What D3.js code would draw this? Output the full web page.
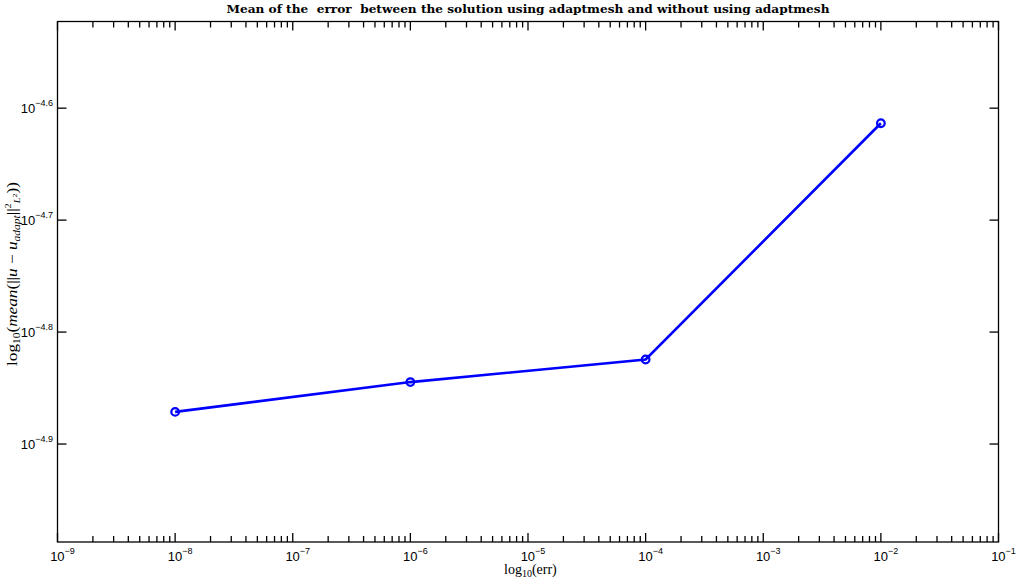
<!DOCTYPE html>
<html>
<head>
<meta charset="utf-8">
<script src="https://d3js.org/d3.v7.min.js"></script>
<style>
  body { margin: 0; background: #fff; }
  svg { display: block; }
</style>
</head>
<body>
<svg id="chart" width="1019" height="585"></svg>
<script>
// values
var errTol = [1e-8, 1e-6, 1e-4, 1e-2];
var meanErr = [1.345e-5, 1.430e-5, 1.498e-5, 2.435e-5];
var xTickExp = [-9, -8, -7, -6, -5, -4, -3, -2, -1];
var yTickExp = ['-4.6', '-4.7', '-4.8', '-4.9'];
var titleText = 'Mean of the  error  between the solution using adaptmesh and without using adaptmesh';

var svg = d3.select('#chart');
// note: "top" is reserved on window, so prefix everything
var padL = 57.5, padR = 998.5, padT = 21.5, padB = 542;

var x = d3.scaleLog().domain([1e-9, 1e-1]).range([padL, padR]);
var y = d3.scaleLog().domain([Math.pow(10, -4.9875), Math.pow(10, -4.5226)]).range([padB, padT]);

// frame
svg.append('rect')
  .attr('x', padL).attr('y', padT)
  .attr('width', padR - padL).attr('height', padB - padT)
  .attr('fill', 'none').attr('stroke', '#000').attr('stroke-width', 1.3);

// x ticks, major and minor, on bottom and top
var xMinor = [];
for (var e = -9; e < -1; e++) {
  for (var m = 2; m <= 9; m++) xMinor.push(m * Math.pow(10, e));
}
var xMajor = xTickExp.map(function(d) { return Math.pow(10, d); });

var ticks = svg.append('g').attr('stroke', '#000').attr('stroke-width', 1.3);
function tickSet(vals, len) {
  vals.forEach(function(v) {
    var px = x(v);
    ticks.append('line').attr('x1', px).attr('x2', px).attr('y1', padB).attr('y2', padB - len);
    ticks.append('line').attr('x1', px).attr('x2', px).attr('y1', padT).attr('y2', padT + len);
  });
}
tickSet(xMajor, 9);
tickSet(xMinor, 6);

yTickExp.forEach(function(d) {
  var py = y(Math.pow(10, +d));
  ticks.append('line').attr('x1', padL).attr('x2', padL + 9).attr('y1', py).attr('y2', py);
  ticks.append('line').attr('x1', padR).attr('x2', padR - 9).attr('y1', py).attr('y2', py);
});

// tick labels
var lab = svg.append('g')
  .attr('font-family', 'Liberation Sans, Arial, sans-serif')
  .attr('fill', '#000');

xTickExp.forEach(function(d) {
  var t = lab.append('text')
    .attr('x', x(Math.pow(10, d)) + 5)
    .attr('y', 561)
    .attr('text-anchor', 'middle')
    .attr('font-size', 13);
  t.append('tspan').text('10');
  t.append('tspan').attr('dy', -7).attr('font-size', 9).text('\u2212' + (-d));
});

yTickExp.forEach(function(d) {
  var t = lab.append('text')
    .attr('x', 53)
    .attr('y', y(Math.pow(10, +d)) + 4.5)
    .attr('text-anchor', 'end')
    .attr('font-size', 13);
  t.append('tspan').text('10');
  t.append('tspan').attr('dy', -7).attr('font-size', 9).text('\u2212' + d.slice(1));
});

// title
svg.append('text')
  .attr('x', (padL + padR) / 2)
  .attr('y', 13)
  .attr('text-anchor', 'middle')
  .attr('font-family', 'DejaVu Serif, serif')
  .attr('font-weight', 'bold')
  .attr('font-size', 11)
  .attr('textLength', 603)
  .attr('lengthAdjust', 'spacingAndGlyphs')
  .style('white-space', 'pre')
  .text(titleText);

// x label
var xl = svg.append('text')
  .attr('x', 504)
  .attr('y', 574)
  .attr('font-family', 'Liberation Serif, serif')
  .attr('font-size', 14);
xl.append('tspan').text('log');
xl.append('tspan').attr('dy', 3).attr('font-size', 10).text('10');
xl.append('tspan').attr('dy', -3).text('(err)');

// y label
var yl = svg.append('text')
  .attr('transform', 'translate(17,274) rotate(-90)')
  .attr('text-anchor', 'middle')
  .attr('font-family', 'Liberation Serif, serif')
  .attr('font-size', 15)
  .attr('textLength', 184)
  .attr('lengthAdjust', 'spacingAndGlyphs');
yl.append('tspan').text('log');
yl.append('tspan').attr('dy', 3).attr('font-size', 10).text('10');
yl.append('tspan').attr('dy', -3).text('(');
yl.append('tspan').attr('font-style', 'italic').text('mean');
yl.append('tspan').text('(||');
yl.append('tspan').attr('font-style', 'italic').text('u');
yl.append('tspan').text(' \u2212 ');
yl.append('tspan').attr('font-style', 'italic').text('u');
yl.append('tspan').attr('dy', 3).attr('font-size', 10).attr('font-style', 'italic').text('adapt');
yl.append('tspan').attr('dy', -3).text('||');
yl.append('tspan').attr('dy', -6).attr('font-size', 9).text('2');
yl.append('tspan').attr('dy', 9).attr('font-size', 9).attr('font-style', 'italic').text('L');
yl.append('tspan').attr('dy', -3).attr('font-size', 7).text('2');
yl.append('tspan').attr('dy', 0).text('))');

// data line and markers
var pts = errTol.map(function(d, i) { return [d, meanErr[i]]; });
var line = d3.line()
  .x(function(d) { return x(d[0]); })
  .y(function(d) { return y(d[1]); });

svg.append('path')
  .datum(pts)
  .attr('d', line)
  .attr('fill', 'none')
  .attr('stroke', '#0000ff')
  .attr('stroke-width', 2.6);

svg.append('g')
  .selectAll('circle')
  .data(pts)
  .enter()
  .append('circle')
  .attr('cx', function(d) { return x(d[0]); })
  .attr('cy', function(d) { return y(d[1]); })
  .attr('r', 3.8)
  .attr('fill', 'none')
  .attr('stroke', '#0000ff')
  .attr('stroke-width', 2.2);
</script>
</body>
</html>
